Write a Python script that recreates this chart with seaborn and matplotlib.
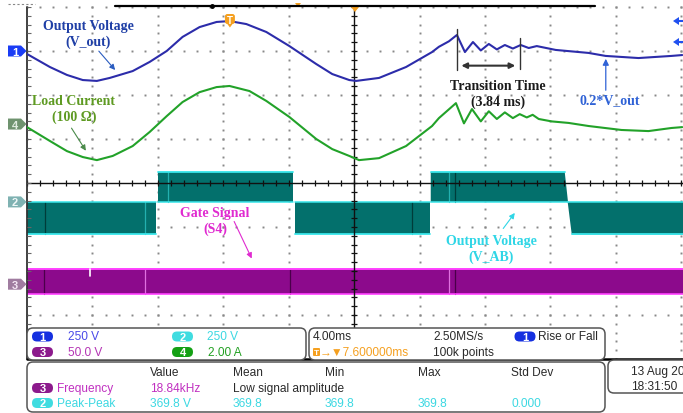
import numpy as np
import pandas as pd
import matplotlib
matplotlib.use("Agg")
import matplotlib.pyplot as plt
import seaborn as sns
from matplotlib.patches import FancyBboxPatch, Polygon
from matplotlib.collections import LineCollection

sns.set_style("white")
SANS = ["Liberation Sans", "DejaVu Sans"]
SERIF = ["Liberation Serif", "DejaVu Serif"]
plt.rcParams["font.family"] = SANS

# ---------------- acquisition (time in ms, 0 = screen centre) ----------------
vout_t = [-20.0, -18.6, -17.56, -16.59, -15.73, -14.94, -13.54, -12.5, -11.46, -10.49,
          -9.45, -8.41, -7.62, -6.59, -5.37, -3.96, -2.32, -1.34, -0.3, 0.12,
          1.52, 3.17, 4.76, 5.18, 5.79, 6.28, 6.77, 7.26, 7.74, 8.23,
          8.72, 9.21, 9.70, 10.18, 10.67, 11.16, 12.32, 14.33, 15.37, 17.38,
          19.39, 20.05]
vout_v = [-17, -91, -136, -165, -170, -153, -114, -62, 0, 80,
          136, 165, 170, 153, 108, 28, -74, -131, -165, -170,
          -153, -91, -6, 24, 55, 91, -6, 51, 3, 40,
          9, 34, 14, 34, 17, 28, 6, -11, -28, -40,
          -28, -23]

iload_t = [-20.0, -18.6, -17.56, -16.59, -15.73, -14.76, -13.54, -12.5, -11.46, -10.49,
           -9.45, -8.41, -7.62, -6.4, -5.37, -3.96, -2.32, -1.34, -0.3, 0.3,
           1.52, 3.17, 4.76, 5.18, 5.67, 6.22, 6.71, 7.2, 7.74, 8.23,
           8.72, 9.21, 9.70, 10.12, 10.55, 10.91, 11.28, 12.07, 13.11, 14.33,
           16.34, 17.99, 19.39, 20.05]
iload_a = [-0.14, -0.77, -1.23, -1.5, -1.64, -1.45, -1.0, -0.36, 0.36, 1.0,
           1.45, 1.68, 1.73, 1.5, 1.05, 0.32, -0.68, -1.14, -1.45, -1.64,
           -1.55, -1.0, -0.09, 0.27, 0.59, 0.95, 0.03, 0.68, 0.12, 0.58,
           0.23, 0.53, 0.27, 0.45, 0.3, 0.42, 0.23, 0.12, 0.05, -0.09,
           -0.27, -0.32, -0.18, -0.14]

# switched inverter output V_AB: PWM envelope per half cycle
vab_start = [-20.1, -12.0, -3.62, 4.68, 13.05]
vab_end = [-12.12, -3.75, 4.62, 12.87, 20.1]
vab_level = [-185, 170, -185, 170, -185]
vab_ramp_in = [0, 0, 0, 0, 0.25]
vab_ramp_out = [0, 0, 0, 0.2, 0]
vab_spike_t = [-18.9, -12.8, -11.38, 3.56, 5.79, 6.16]
vab_spike_dark = [True, False, False, True, False, True]

# gate signal S4 envelope
gate_high, gate_low = 17.0, -11.0
gate_spike_t = [-18.96, -12.76, -3.9, 5.79, 6.16]
gate_spike_dark = [True, False, True, False, True]

# vertical scale (units/div) and screen offsets (div)
ch_scale = {1: 250.0, 2: 250.0, 3: 50.0, 4: 2.0}
ch_offset = {1: 3.0, 2: -0.43, 3: -2.3, 4: 1.34}

trigger_ms = -7.6
transition_start = 6.28
transition_ms = 3.84

# readout panels
scale_rows = [("1", "250 V", "2", "250 V"), ("3", "50.0 V", "4", "2.00 A")]
meas_headers = ["Value", "Mean", "Min", "Max", "Std Dev"]
freq_row = ["Frequency", "18.84kHz", "Low signal amplitude"]
pkpk_row = ["Peak-Peak", "369.8 V", "369.8", "369.8", "369.8", "0.000"]

BLUE = "#2c2caa"
GREEN = "#22a229"
TEAL = "#03706c"
CYAN = "#38e6ea"
PURPLE = "#8c0a8c"
MAGENTA = "#ff40ff"
ORANGE = "#f5a020"

W, H = 683, 414
fig = plt.figure(figsize=(W / 100, H / 100), dpi=100)
ax = fig.add_axes([27 / W, 1 - 360 / H, 656 / W, 352 / H])
ax.set_xlim(-20, 20.1)
ax.set_ylim(-4, 4)
ax.set_axis_off()


def to_div(ch, vals):
    return np.asarray(vals, dtype=float) / ch_scale[ch] + ch_offset[ch]


# ---------------- graticule ----------------
ys_fine = np.arange(-4, 4.001, 0.2)
xs_fine = np.arange(-20, 20.001, 0.8)
dot_kw = dict(ls="none", marker="s", ms=1.4, mew=0, color="#888888", zorder=1, clip_on=False)
for gx in np.arange(-16, 20.001, 4):
    if abs(gx) > 1e-9:
        ax.plot(np.full(ys_fine.size, gx), ys_fine, **dot_kw)
for gy in np.arange(-3, 4.001, 1):
    if abs(gy) > 1e-9:
        ax.plot(xs_fine, np.full(xs_fine.size, gy), **dot_kw)

ax.plot([-20.1, 20.1], [0, 0], color="#111111", lw=1.0, zorder=4)
ax.plot([0, 0], [-4, 4], color="#111111", lw=1.0, zorder=4)
ticks = [[(x, -0.07), (x, 0.07)] for x in xs_fine] + [[(-0.2, y), (0.2, y)] for y in ys_fine]
ax.add_collection(LineCollection(ticks, colors="#111111", lw=0.9, zorder=4))
ax.plot([-20, -20], [-4, 4], color="#333333", lw=1.3, clip_on=False, zorder=4)
ax.add_collection(LineCollection([[(-20, y), (-19.75, y)] for y in ys_fine],
                                 colors="#666666", lw=0.8, zorder=4))
ax.plot([-20, 20.1], [-4, -4], color="black", lw=1.8, clip_on=False, zorder=4)

# ---------------- V_AB band (channel 2) ----------------
base2 = ch_offset[2]
for s, e, lv, ri, ro in zip(vab_start, vab_end, vab_level, vab_ramp_in, vab_ramp_out):
    lvl = to_div(2, lv)
    ax.add_patch(Polygon([(s, base2), (s + ri, lvl), (e, lvl), (e + ro, base2)],
                         closed=True, fc=TEAL, ec="none", zorder=3))
    ax.plot([s + ri, e], [lvl, lvl], color=CYAN, lw=1.3, zorder=3.5)
    ax.plot([s, e + ro], [base2, base2], color=CYAN, lw=1.1, zorder=3.5)
for t, dark in zip(vab_spike_t, vab_spike_dark):
    k = max(i for i, s in enumerate(vab_start) if s <= t)
    ax.plot([t, t], [base2, to_div(2, vab_level[k])], color="#003c3a" if dark else "#23b0b0",
            lw=0.9, zorder=3.4)

# ---------------- gate band (channel 3) ----------------
g_hi, g_lo = to_div(3, gate_high), to_div(3, gate_low)
ax.fill_between([-20, 20.1], g_lo, g_hi, color=PURPLE, lw=0, zorder=3)
ax.plot([-20, 20.1], [g_hi, g_hi], color=MAGENTA, lw=1.4, zorder=3.5)
ax.plot([-20, 20.1], [g_lo, g_lo], color=MAGENTA, lw=1.2, zorder=3.5)
for t, dark in zip(gate_spike_t, gate_spike_dark):
    ax.plot([t, t], [g_lo, g_hi], color="#4a004a" if dark else "#e070e0", lw=0.9, zorder=3.4)
ax.plot([-16.16, -16.16], [g_hi, g_hi - 0.16], color="white", lw=1.2, zorder=3.6)

# ---------------- analog traces ----------------
df_v = pd.DataFrame({"t": vout_t, "div": to_div(1, vout_v)})
df_i = pd.DataFrame({"t": iload_t, "div": to_div(4, iload_a)})
sns.lineplot(data=df_v, x="t", y="div", ax=ax, color=BLUE, lw=1.5, sort=False,
             estimator=None, zorder=6)
sns.lineplot(data=df_i, x="t", y="div", ax=ax, color=GREEN, lw=1.5, sort=False,
             estimator=None, zorder=6)
ax.set_xlim(-20, 20.1)
ax.set_ylim(-4, 4)
ax.set_axis_off()

# ---------------- annotations ----------------
lab = dict(ha="center", va="center", family=SERIF, fontweight="bold", fontsize=10,
           linespacing=1.2, zorder=8)
ax.text(-16.27, 3.40, "Output Voltage\n(V_out)", color="#1f3fa6", **lab)
ax.annotate("", xy=(-14.50, 2.52), xytext=(-15.72, 3.045),
            arrowprops=dict(arrowstyle="-|>", color="#2a5cc0", lw=0.8, mutation_scale=8))
ax.text(-17.13, 1.69, "Load Current\n(100 Ω)", color="#5e9a22", **lab)
ax.annotate("", xy=(-16.31, 0.68), xytext=(-17.37, 1.30),
            arrowprops=dict(arrowstyle="-|>", color="#4a8a4a", lw=0.8, mutation_scale=8))

t_end = transition_start + transition_ms
ax.plot([transition_start] * 2, [2.57, 3.50], color="#333333", lw=1.0, zorder=7)
ax.plot([t_end] * 2, [2.59, 3.30], color="#333333", lw=1.0, zorder=7)
ax.annotate("", xy=(t_end - 0.1, 2.667), xytext=(transition_start + 0.1, 2.667),
            arrowprops=dict(arrowstyle="<|-|>", color="#333333", lw=1.5, mutation_scale=8))
ax.text(8.78, 2.03, f"Transition Time\n({transition_ms:.2f} ms)", color="#1a1a1a", **lab)

ax.text(15.62, 1.886, "0.2*V_out", color="#2f62d6", **lab)
ax.annotate("", xy=(15.38, 2.886), xytext=(15.38, 2.045),
            arrowprops=dict(arrowstyle="-|>", color="#2f62d6", lw=0.9, mutation_scale=9))

ax.text(-8.51, -0.852, "Gate Signal\n(S4)", color="#e02ad0", **lab)
ax.annotate("", xy=(-6.19, -1.773), xytext=(-7.41, -0.818),
            arrowprops=dict(arrowstyle="-|>", color="#e02ad0", lw=0.8, mutation_scale=8))
ax.text(8.38, -1.489, "Output Voltage\n(V_AB)", color="#2fd6e6", **lab)
ax.annotate("", xy=(9.92, -0.63), xytext=(9.01, -1.084),
            arrowprops=dict(arrowstyle="-|>", color="#2fd6e6", lw=0.8, mutation_scale=8))

# ---------------- overlay in pixel coordinates ----------------
ov = fig.add_axes([0, 0, 1, 1])
ov.set_xlim(0, W)
ov.set_ylim(H, 0)
ov.set_axis_off()

# top record bar and markers
ov.plot([115, 595], [6.5, 6.5], color="black", lw=1.6)
ov.plot([8, 35], [5, 5], color="#888888", lw=0.8, ls=(0, (2, 2)))
ov.plot([212], [6.5], marker="o", ms=2.5, color="black")
ov.add_patch(Polygon([(295, 4), (301, 4), (298, 8)], fc=ORANGE, ec="none"))
ov.add_patch(Polygon([(351, 8), (359, 8), (355, 13)], fc=ORANGE, ec="none"))
trig_x = 354.3 + trigger_ms / 0.0611
ov.add_patch(FancyBboxPatch((trig_x - 5, 15), 10, 10, boxstyle="round,pad=0,rounding_size=2.5",
                            fc=ORANGE, ec="none", zorder=9))
ov.add_patch(Polygon([(trig_x - 3, 24.5), (trig_x + 3, 24.5), (trig_x, 28.5)], fc=ORANGE,
                     ec="none", zorder=9))
ov.text(trig_x, 20.5, "T", color="white", fontsize=7, fontweight="bold", ha="center",
        va="center", zorder=10)

# channel offset badges on the left
badge_style = {1: ("#1a3cf5", "white"), 4: ("#6f936f", "#e0ece0"),
               2: ("#7fb2b2", "#eef6f6"), 3: ("#a07ca0", "#f4e6f4")}
for ch, (fc, tc) in badge_style.items():
    yc = 184 - ch_offset[ch] * 44
    ov.add_patch(Polygon([(8, yc - 5.5), (21, yc - 5.5), (26.5, yc), (21, yc + 5.5), (8, yc + 5.5)],
                         fc=fc, ec="none"))
    ov.text(15, yc + 0.5, str(ch), color=tc, fontsize=8, fontweight="bold", ha="center",
            va="center")

# channel-1 arrows at the right edge
for yc in (22, 43):
    ov.add_patch(Polygon([(673, yc), (679, yc - 4), (679, yc + 4)], fc="#2050f0", ec="none"))
    ov.plot([678, 683], [yc, yc], color="#2050f0", lw=1.5)


def panel(x0, y0, x1, y1):
    ov.add_patch(FancyBboxPatch((x0, y0), x1 - x0, y1 - y0,
                                boxstyle="round,pad=0,rounding_size=6",
                                fc="white", ec="#555555", lw=1.1, zorder=5))


def pill(xc, yc, label, color):
    ov.add_patch(FancyBboxPatch((xc - 10.5, yc - 5), 21, 10,
                                boxstyle="round,pad=0,rounding_size=5",
                                fc=color, ec="none", zorder=6))
    ov.text(xc, yc + 0.3, label, color="white", fontsize=8, fontweight="bold",
            ha="center", va="center", zorder=7)


txt = dict(fontsize=8.6, ha="left", va="center", zorder=7, family=SANS)
C1, C2, C3, C4 = "#4848e8", "#3cd8e2", "#b434b4", "#22a022"
P1, P2, P3, P4 = "#1530e0", "#40dce0", "#8c1a8c", "#14a014"

panel(27, 329, 306, 361)
pill(42.5, 337.5, scale_rows[0][0], P1)
ov.text(68, 337.5, scale_rows[0][1], color=C1, **txt)
pill(182.5, 337.5, scale_rows[0][2], P2)
ov.text(207, 337.5, scale_rows[0][3], color=C2, **txt)
pill(42.5, 353, scale_rows[1][0], P3)
ov.text(68, 353, scale_rows[1][1], color=C3, **txt)
pill(182.5, 353, scale_rows[1][2], P4)
ov.text(208, 353, scale_rows[1][3], color=C4, **txt)

panel(309, 329, 605, 361)
ov.text(313, 337.5, "4.00ms", color="#2a2a2a", **txt)
ov.text(433, 337.5, "2.50MS/s", color="#2a2a2a", **txt)
pill(525, 337.5, "1", P1)
ov.text(538, 337.5, "Rise or Fall", color="#2a2a2a", **txt)
ov.add_patch(FancyBboxPatch((313, 349), 7, 8, boxstyle="round,pad=0,rounding_size=1",
                            fc=ORANGE, ec="none", zorder=6))
ov.text(316.5, 353.3, "T", color="white", fontsize=6, fontweight="bold", ha="center",
        va="center", zorder=7)
ov.text(320, 353, f"→▼{-trigger_ms:.6f}ms", color=ORANGE, **txt)
ov.text(433, 353, "100k points", color="#2a2a2a", **txt)

panel(27, 363, 605, 413)
for name, x in zip(meas_headers, [150, 233, 325, 418, 511]):
    ov.text(x, 373, name, color="#2a2a2a", **txt)
pill(42.5, 389, "3", P3)
ov.text(57, 389, freq_row[0], color="#c030c0", **txt)
ov.text(150, 389, freq_row[1], color="#c030c0", **txt)
ov.text(233, 389, freq_row[2], color="#2a2a2a", **txt)
pill(42.5, 404, "2", P2)
for val, x in zip(pkpk_row, [57, 150, 233, 325, 418, 511]):
    ov.text(x, 404, val, color=C2, **txt)

panel(608, 361, 700, 394)
ov.text(631, 372, "13 Aug 20", color="#2a2a2a", **txt)
ov.text(631, 387, "18:31:50", color="#2a2a2a", **txt)

fig.savefig("out.png", dpi=100)
